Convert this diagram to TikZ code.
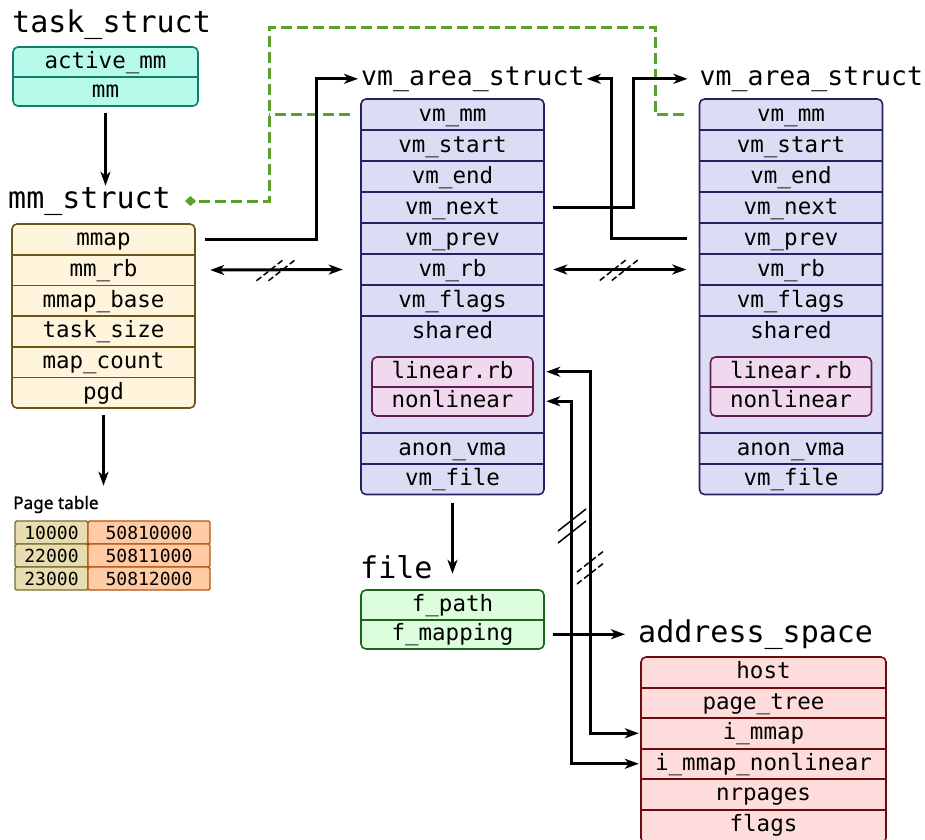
\documentclass[tikz,border=0pt]{standalone}
\usepackage{fontspec}
\setmonofont{DejaVu Sans Mono}
\newfontfamily\uifont[FakeBold=1.2]{Noto Sans}
\usetikzlibrary{arrows.meta}
\definecolor{TSFill}{HTML}{B6FAEA}
\definecolor{TSLine}{HTML}{0F7F6C}
\definecolor{MMFill}{HTML}{FFF5DC}
\definecolor{MMLine}{HTML}{6A5618}
\definecolor{VMFill}{HTML}{DCDCF4}
\definecolor{VMLine}{HTML}{222266}
\definecolor{SHFill}{HTML}{F0D8EE}
\definecolor{SHLine}{HTML}{5F1D50}
\definecolor{FLFill}{HTML}{DCFEDC}
\definecolor{FLLine}{HTML}{1C661C}
\definecolor{ASFill}{HTML}{FFDCDC}
\definecolor{ASLine}{HTML}{6C0C0C}
\definecolor{PTKey}{HTML}{E8DDB0}
\definecolor{PTKeyLine}{HTML}{7A6B2D}
\definecolor{PTVal}{HTML}{FFCBA5}
\definecolor{PTValLine}{HTML}{B8530F}
\definecolor{MMGreen}{HTML}{5B9F2D}

\tikzset{
  fld/.style={inner sep=0pt,text height=17pt,text depth=4pt,minimum height=31pt,
    font=\ttfamily\fontsize{22.5}{27}\selectfont},
  ttl/.style={anchor=base west,inner sep=0pt,font=\ttfamily\fontsize{30}{36}\selectfont},
  vmttl/.style={ttl,font=\ttfamily\fontsize{26.5}{32}\selectfont},
  box/.style={line width=1.6pt,rounded corners=5pt},
  sep/.style={line width=1.6pt},
  link/.style={line width=3pt,->},
  both/.style={line width=3pt,<->},
  share/.style={MMGreen,line width=3pt,dash pattern=on 11pt off 5pt,-{Diamond[length=11pt,width=10pt]}},
  ptcell/.style={draw,line width=1.4pt,rounded corners=1.5pt,inner sep=0pt,minimum height=23pt,
    text height=13pt,text depth=0pt,text=black,font=\ttfamily\fontsize{18}{22}\selectfont},
  cut/.style={line width=1.5pt},
  dcut/.style={cut,dash pattern=on 6pt off 3pt},
  hbrk/.pic={\draw[dcut] (-20,11) -- (8,-11) (-8,11) -- (20,-11);},
  vbrk/.pic={\draw[cut] (-14,17) -- (14,-5) (-14,5) -- (14,-17);},
  vbrkd/.pic={\draw[dcut] (-14,17) -- (14,-5) (-14,5) -- (14,-17);}
}

\begin{document}
\begin{tikzpicture}[x=1pt,y=-1pt,>={Stealth[length=14pt,width=10pt,inset=4pt]}]
\path[use as bounding box] (0,0) rectangle (925,839);
\fill[white] (0,0) rectangle (925,839);

% task_struct
\node[ttl] (tstitle) at (12,32) {task\_struct};
\filldraw[box,TSLine,fill=TSFill] (13,47) rectangle (198,106);
\node[fld,minimum width=185pt,minimum height=29.5pt] (ts1) at (105.5,61.75) {active\_mm};
\node[fld,minimum width=185pt,minimum height=29.5pt] (ts2) at (105.5,91.25) {mm};
\draw[sep,TSLine] (ts1.south west) -- (ts1.south east);

% mm_struct
\node[ttl] (mmtitle) at (8,208) {mm\_struct};
\filldraw[box,MMLine,fill=MMFill] (12,224) rectangle (195,408);
\foreach \f [count=\i] in {mmap,mm\_rb,mmap\_base,task\_size,map\_count,pgd}
  \node[fld,minimum width=183pt,minimum height=30.67pt] (mm\i) at (103.5,208.67+30.67*\i) {\f};
\foreach \i in {1,...,5} \draw[sep,MMLine] (mm\i.south west) -- (mm\i.south east);

% page table
\node[anchor=base west,inner sep=0pt,font=\uifont\fontsize{17.2}{20}\selectfont] (ptlabel) at (13,509) {Page table};
\foreach \k/\v [count=\i] in {10000/50810000,22000/50811000,23000/50812000} {
  \node[ptcell,draw=PTKeyLine,fill=PTKey,minimum width=73pt] (key\i) at (51.5,509.5+23*\i) {\k};
  \node[ptcell,draw=PTValLine,fill=PTVal,minimum width=122pt] (val\i) at (149,509.5+23*\i) {\v};
}

% the two vm_area_structs
\foreach \v/\cx in {A/452.5,B/791} {
  \node[vmttl] (vmtitle\v) at (\cx-91.5,85) {vm\_area\_struct};
  \filldraw[box,VMLine,fill=VMFill] (\cx-91.5,99) rectangle (\cx+91.5,494.5);
  \foreach \f/\y [count=\i] in {vm\_mm/114.5,vm\_start/145.5,vm\_end/176.5,vm\_next/207.5,
      vm\_prev/238.5,vm\_rb/269.5,vm\_flags/300.5,anon\_vma/448.5,vm\_file/479}
    \node[fld,minimum width=183pt] (vm\v\i) at (\cx,\y) {\f};
  \foreach \i in {1,...,8} \draw[sep,VMLine] (vm\v\i.south west) -- (vm\v\i.south east);
  \draw[sep,VMLine] (vm\v8.north west) -- (vm\v8.north east);
  \node[fld] (sh\v) at (\cx,332) {shared};
  \filldraw[box,SHLine,fill=SHFill] (\cx-80.5,357) rectangle (\cx+80.5,416);
  \node[fld,minimum width=161pt,minimum height=29.5pt] (lin\v) at (\cx,371.75) {linear.rb};
  \node[fld,minimum width=161pt,minimum height=29.5pt] (nl\v) at (\cx,401.25) {nonlinear};
  \draw[sep,SHLine] (lin\v.south west) -- (lin\v.south east);
}

% file
\node[ttl] (fltitle) at (360,578) {file};
\filldraw[box,FLLine,fill=FLFill] (361,590) rectangle (544,649);
\node[fld,minimum width=183pt,minimum height=29.5pt] (fl1) at (452.5,604.75) {f\_path};
\node[fld,minimum width=183pt,minimum height=29.5pt] (fl2) at (452.5,634.25) {f\_mapping};
\draw[sep,FLLine] (fl1.south west) -- (fl1.south east);

% address_space
\node[ttl] (astitle) at (638,642) {address\_space};
\filldraw[box,ASLine,fill=ASFill] (641,657) rectangle (886,843);
\foreach \f [count=\i] in {host,page\_tree,i\_mmap,i\_mmap\_nonlinear,nrpages,flags}
  \node[fld,minimum width=245pt,minimum height=30.5pt] (as\i) at (763.5,641.75+30.5*\i) {\f};
\foreach \i in {1,...,5} \draw[sep,ASLine] (as\i.south west) -- (as\i.south east);

% vm_mm back to mm_struct
\draw[share] ([xshift=-15pt]vmB1.west) -- ++(-29,0) |- (269,27) |- ([xshift=14pt]mmtitle.east);
\draw[share,-] ([xshift=-11pt]vmA1.west) -- ++(-81,0);

% pointers
\draw[link] ([yshift=-7pt]ts2.south) -- ([yshift=1pt]mmtitle.north -| ts2.south);
\draw[link] ([yshift=-7pt]mm6.south) -- ([yshift=10pt]ptlabel.north -| mm6.south);
\draw[link] ([xshift=10pt]mm1.east) -- ++(111,0) |- ([xshift=-3pt]vmtitleA.west);
\draw[link] ([xshift=9pt]vmA4.east) -- ++(80,0) |- ([xshift=-12pt]vmtitleB.west);
\draw[link] ([xshift=-12pt]vmB5.west) -- ++(-76,0) |- ([xshift=2pt]vmtitleA.east);
\draw[both] ([xshift=15pt]mm2.east) -- coordinate (cutA) ([xshift=-18pt]vmA6.west);
\draw[both] ([xshift=9pt]vmA6.east) -- coordinate (cutB) ([xshift=-13pt]vmB6.west);
\draw[link] ([yshift=-8pt]vmA9.south) -- ([yshift=16pt]fl1.north);
\draw[link] ([xshift=9pt]fl2.east) -- ([xshift=-13pt]fl2.east -| astitle.west);
\draw[both] ([xshift=2pt]vmA1.east |- linA.east) -| ([xshift=-50pt]as3.west) -- ([xshift=-2pt]as3.west);
\draw[both] ([xshift=2pt]vmA1.east |- nlA.east) -| ([xshift=-69pt]as4.west) -- ([xshift=-2pt]as4.west);

% breaks
\pic at (cutA) {hbrk};
\pic at (cutB) {hbrk};
\pic at (572,526) {vbrk};
\pic at (591,567) {vbrkd};
\end{tikzpicture}
\end{document}
